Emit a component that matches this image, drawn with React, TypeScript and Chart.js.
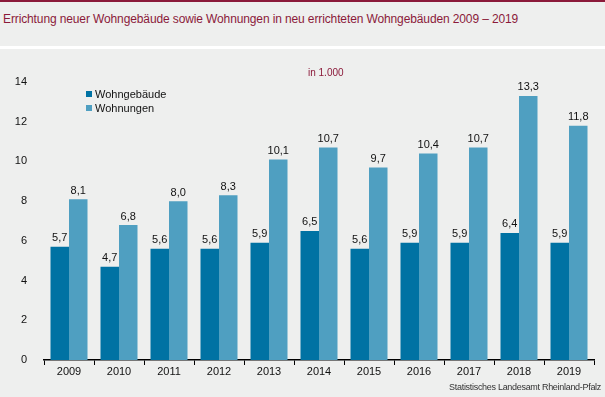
import React, { useEffect, useRef } from "react";
import { Chart, registerables } from "chart.js";

Chart.register(...registerables);

const years = ["2009", "2010", "2011", "2012", "2013", "2014", "2015", "2016", "2017", "2018", "2019"];
const wohngebaeude = [5.7, 4.7, 5.6, 5.6, 5.9, 6.5, 5.6, 5.9, 5.9, 6.4, 5.9];
const wohnungen = [8.1, 6.8, 8.0, 8.3, 10.1, 10.7, 9.7, 10.4, 10.7, 13.3, 11.8];
const yTicks = [0, 2, 4, 6, 8, 10, 12, 14];

const DARK = "#0072a3";
const LIGHT = "#4f9fc1";
const RED = "#8b1a3a";
const BG = "#eeefee";
const FONT = "Arial, 'Liberation Sans', sans-serif";

const valueLabels = {
  id: "valueLabels",
  afterDatasetsDraw(chart: any) {
    const ctx = chart.ctx;
    ctx.save();
    ctx.font = `11px ${FONT}`;
    ctx.fillStyle = "#111";
    ctx.textAlign = "center";
    ctx.textBaseline = "bottom";
    chart.data.datasets.forEach((ds: any, di: number) => {
      const meta = chart.getDatasetMeta(di);
      meta.data.forEach((bar: any, i: number) => {
        const v = ds.data[i] as number;
        ctx.fillText(v.toFixed(1).replace(".", ","), bar.x, bar.y - 3);
      });
    });
    ctx.restore();
  },
};

export default function App() {
  const ref = useRef<HTMLCanvasElement>(null);
  useEffect(() => {
    document.body.style.margin = "0";
    const chart = new Chart(ref.current!, {
      type: "bar",
      data: {
        labels: years,
        datasets: [
          { label: "Wohngebäude", data: wohngebaeude, backgroundColor: DARK, categoryPercentage: 0.74, barPercentage: 1 },
          { label: "Wohnungen", data: wohnungen, backgroundColor: LIGHT, categoryPercentage: 0.74, barPercentage: 1 },
        ],
      },
      options: {
        responsive: false,
        animation: false,
        layout: { padding: { top: 82, right: 11, left: 0, bottom: 0 } },
        plugins: { legend: { display: false }, tooltip: { enabled: false }, title: { display: false } },
        scales: {
          x: {
            grid: { offset: true, drawOnChartArea: false, drawTicks: true, tickLength: 5, color: "#000" },
            border: { display: true, color: "#000", width: 1.5 },
            ticks: { color: "#111", font: { family: FONT, size: 11 }, padding: 0 },
            afterFit: (s: any) => { s.height = 37; },
          },
          y: {
            min: 0,
            max: 14,
            afterBuildTicks: (s: any) => { s.ticks = yTicks.map((v) => ({ value: v })); },
            grid: { display: false },
            border: { display: false },
            ticks: { color: "#111", font: { family: FONT, size: 11 }, padding: 9 },
            afterFit: (s: any) => { s.width = 44; },
          },
        },
      },
      plugins: [valueLabels],
    });
    return () => chart.destroy();
  }, []);

  return (
    <div style={{ position: "absolute", left: 0, top: 0, width: 605, height: 397, background: BG, overflow: "hidden", fontFamily: FONT }}>
      <div style={{ position: "absolute", left: 0, top: 0, width: 605, height: 2, background: RED }} />
      <div style={{ position: "absolute", left: 3, top: 12, fontSize: 12, color: RED, whiteSpace: "nowrap", letterSpacing: "-0.12px" }}>
        Errichtung neuer Wohngebäude sowie Wohnungen in neu errichteten Wohngebäuden 2009 – 2019
      </div>
      <div style={{ position: "absolute", left: 0, top: 46, width: 605, height: 3, background: "#ffffff" }} />
      <canvas ref={ref} width={605} height={397} style={{ position: "absolute", left: 0, top: 0 }} />
      <div style={{ position: "absolute", left: 308, top: 67, fontSize: 10, color: RED, whiteSpace: "nowrap" }}>in 1.000</div>
      <div style={{ position: "absolute", left: 86, top: 87, fontSize: 11, color: "#111", lineHeight: "14px" }}>
        <div style={{ display: "flex", alignItems: "center" }}>
          <span style={{ display: "inline-block", width: 6, height: 6, background: DARK, marginRight: 3 }} />Wohngebäude
        </div>
        <div style={{ display: "flex", alignItems: "center" }}>
          <span style={{ display: "inline-block", width: 6, height: 6, background: LIGHT, marginRight: 3 }} />Wohnungen
        </div>
      </div>
      <div style={{ position: "absolute", right: 4, top: 382, fontSize: 9, color: "#333", whiteSpace: "nowrap", letterSpacing: "-0.3px" }}>
        Statistisches Landesamt Rheinland-Pfalz
      </div>
    </div>
  );
}
